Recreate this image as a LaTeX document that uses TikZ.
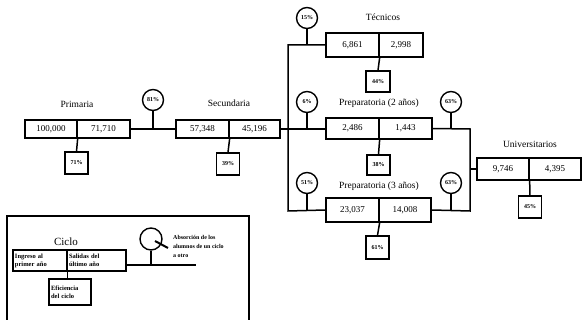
\documentclass[tikz,border=0pt]{standalone}
\usepackage{fontspec}
\setmainfont{Liberation Serif}
\begin{document}
\begin{tikzpicture}[x=1pt,y=-1pt,
  cell/.style={draw,line width=1.3pt,inner sep=0pt,font=\fontsize{9}{10}\selectfont},
  pct/.style={draw,line width=1.4pt,inner sep=0pt,minimum width=23pt,minimum height=22pt,font=\bfseries\fontsize{6}{7}\selectfont},
  circ/.style={draw,circle,line width=1.4pt,inner sep=0pt,minimum size=21pt,font=\bfseries\fontsize{6}{7}\selectfont},
  lbl/.style={font=\fontsize{9.5}{11}\selectfont,inner sep=0pt},
  conn/.style={line width=1.5pt},
  lgcell/.style={draw,line width=1.3pt,inner sep=1pt,align=left,font=\bfseries\fontsize{6.5}{8}\selectfont}]
\useasboundingbox (0,0) rectangle (582,320);
% ---- Primaria
\node[cell,minimum width=52pt,minimum height=18pt] (pa) at (51,129) {100,000};
\node[cell,minimum width=53pt,minimum height=18pt] (pb) at (103.5,129) {71,710};
\node[lbl] (pl) at (77,104) {Primaria};
\node[pct] (pp) at (76.5,163) {71\%};
% ---- Secundaria
\node[cell,minimum width=53pt,minimum height=18pt] (sa) at (202.5,129) {57,348};
\node[cell,minimum width=51pt,minimum height=18pt] (sb) at (254.5,129) {45,196};
\node[lbl] (sl) at (229,103) {Secundaria};
\node[pct] (sp) at (228,164) {39\%};
\node[circ] (c81) at (153,100) {81\%};
% ---- Tecnicos
\node[cell,minimum width=53pt,minimum height=24pt] (ta) at (352.5,45) {6,861};
\node[cell,minimum width=44pt,minimum height=24pt] (tb) at (401,45) {2,998};
\node[lbl] (tl) at (383,17) {Técnicos};
\node[pct,minimum width=24pt,minimum height=21pt] (tp) at (378,81.5) {44\%};
\node[circ] (c15) at (307,18) {15\%};
% ---- Preparatoria 2
\node[cell,minimum width=53pt,minimum height=21pt] (qa) at (352.5,128.5) {2,486};
\node[cell,minimum width=53pt,minimum height=21pt] (qb) at (405.5,128.5) {1,443};
\node[lbl] (ql) at (379,103) {Preparatoria (2 años)};
\node[pct,minimum height=20pt] (qp) at (378.5,165) {38\%};
\node[circ] (c6) at (307,102) {6\%};
\node[circ] (c63a) at (451,102) {63\%};
% ---- Preparatoria 3
\node[cell,minimum width=53pt,minimum height=24pt] (ra) at (352.5,210) {23,037};
\node[cell,minimum width=52pt,minimum height=24pt] (rb) at (405,210) {14,008};
\node[lbl] (rl) at (379,186) {Preparatoria (3 años)};
\node[pct,minimum height=23pt] (rp) at (377.5,247.5) {61\%};
\node[circ] (c51) at (307,183) {51\%};
\node[circ] (c63b) at (451,183) {63\%};
% ---- Universitarios
\node[cell,minimum width=52pt,minimum height=22pt] (ua) at (503,169) {9,746};
\node[cell,minimum width=52pt,minimum height=22pt] (ub) at (555,169) {4,395};
\node[lbl] (ul) at (530,144) {Universitarios};
\node[pct] (up) at (530,207) {45\%};
% ---- junction coordinates
\coordinate (j81) at (153,129);
\coordinate (jt) at (288,45);
\coordinate (jm) at (288,129);
\coordinate (jb) at (288,211);
\coordinate (k15) at (307,45);
\coordinate (k6) at (307,129);
\coordinate (k51) at (307,211);
\coordinate (rt) at (470,129);
\coordinate (rm) at (470,169);
\coordinate (rbt) at (470,211);
\coordinate (k63a) at (451,129);
\coordinate (k63b) at (451,211);
% ---- connectors
\draw[conn] (pb.east) -- (sa.west);
\draw[conn] (c81.south) -- (j81);
\draw[conn] (pa.south east) -- (pp.north);
\draw[conn] (sa.south east) -- (sp.north);
\draw[conn] (sb.east) -- (qa.west|-jm);
\draw[conn] (ta.west) -- (jt) -- (jb) -- (ra.west);
\draw[conn] (c15.south) -- (k15);
\draw[conn] (c6.south) -- (k6);
\draw[conn] (c51.south) -- (k51);
\draw[conn] (ta.south east) -- (tp.north);
\draw[conn] (qa.south east) -- (qp.north);
\draw[conn] (ra.south east) -- (rp.north);
\draw[conn] (qb.east) -- (rt) -- (rbt) -- (rb.east);
\draw[conn] (rm) -- (ua.west);
\draw[conn] (c63a.south) -- (k63a);
\draw[conn] (c63b.south) -- (k63b);
\draw[conn] (ua.south east) -- (up.north);
% ---- legend
\draw[line width=1.3pt] (7,321) -- (7,216) -- (249,216) -- (249,321);
\node[font=\fontsize{11}{12}\selectfont,inner sep=0pt] (lc) at (66,242) {Ciclo};
\node[lgcell,minimum width=54pt,minimum height=21pt,text width=50pt] (la) at (40,260.5) {Ingreso al\\primer año};
\node[lgcell,minimum width=59pt,minimum height=21pt,text width=55pt] (lb) at (96.5,260.5) {Salidas del\\último año};
\node[lgcell,minimum width=42pt,minimum height=26pt,text width=38pt] (le) at (70,292) {Eficiencia\\del ciclo};
\node[circ,minimum size=22pt] (lcirc) at (151,239) {};
\node[font=\bfseries\fontsize{6}{8.8}\selectfont,align=left,anchor=north west,inner sep=0pt] (ltext) at (173,235.5) {Absorción de los\\alumnos de un ciclo\\a otro};
\coordinate (lj) at (151,265);
\coordinate (lend) at (196,265);
\coordinate (lh1) at (155,241);
\coordinate (lh2) at (168,248);
\draw[conn] (la.south east) -- (le.north-|la.south east);
\draw[conn] (lb.east|-lj) -- (lend);
\draw[conn] (lcirc.south) -- (lj);
\draw[line width=2pt] (lh1) -- (lh2);
\end{tikzpicture}
\end{document}
